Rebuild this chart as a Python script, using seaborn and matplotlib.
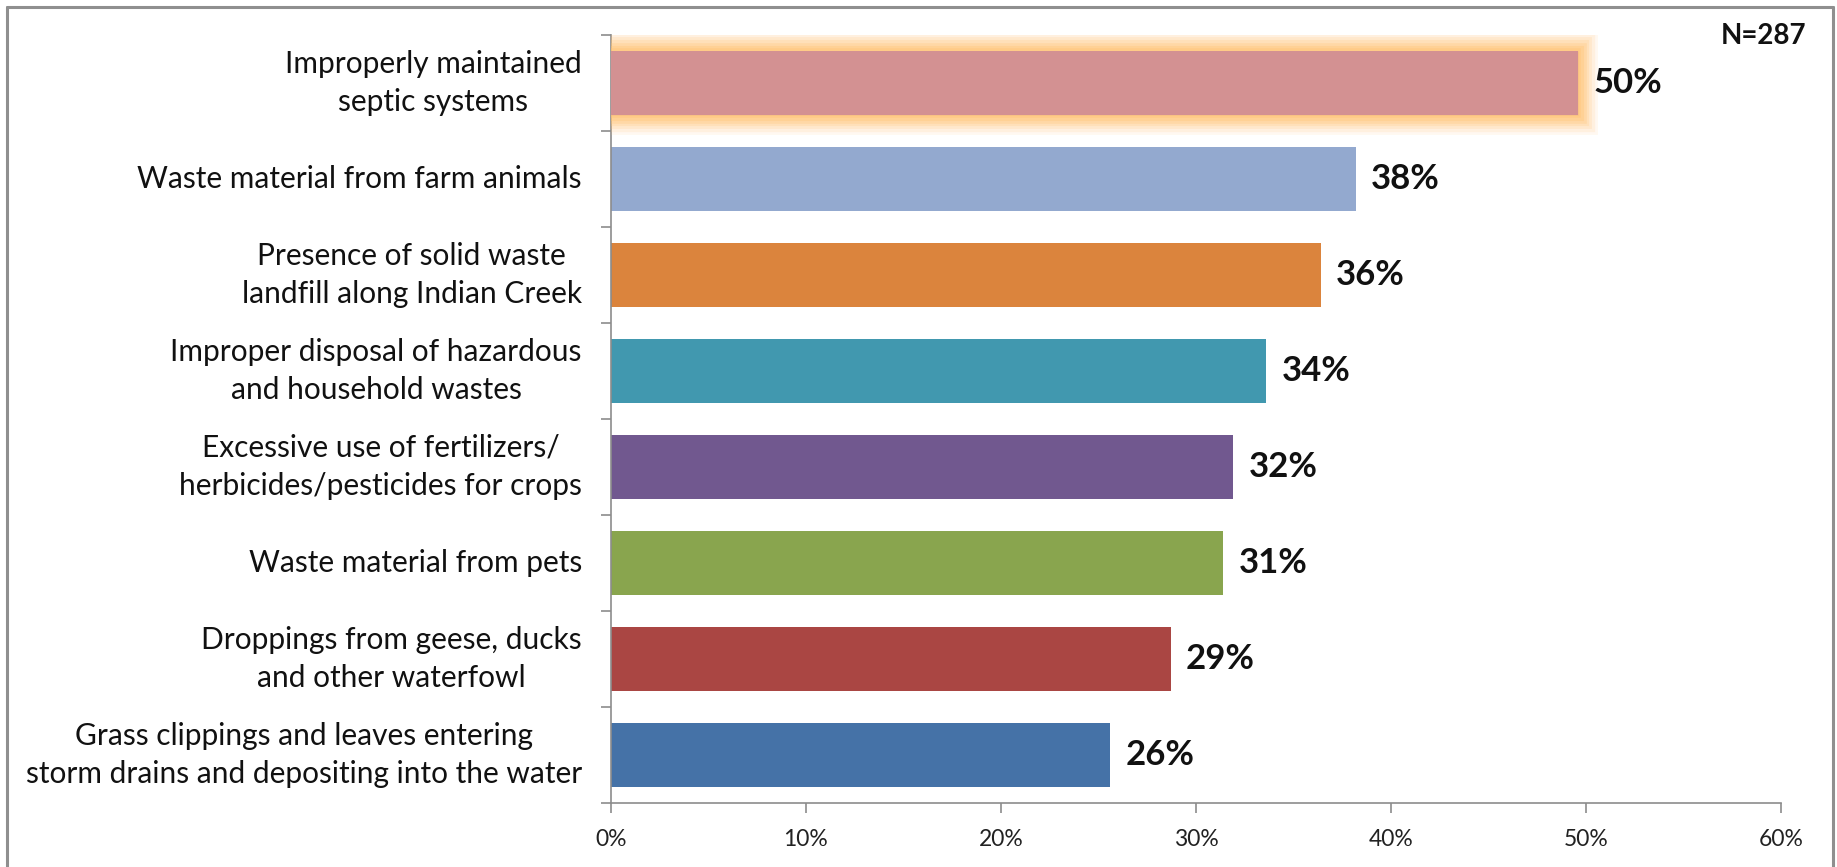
import matplotlib
matplotlib.use("Agg")
import matplotlib.pyplot as plt
import matplotlib.patheffects as pe
from matplotlib.lines import Line2D
from matplotlib.ticker import FixedLocator, PercentFormatter
import seaborn as sns
import pandas as pd

# Survey responses: perceived sources of water pollution
categories = [
    "Improperly maintained\nseptic systems",
    "Waste material from farm animals",
    "Presence of solid waste\nlandfill along Indian Creek",
    "Improper disposal of hazardous\nand household wastes",
    "Excessive use of fertilizers/\nherbicides/pesticides for crops",
    "Waste material from pets",
    "Droppings from geese, ducks\nand other waterfowl",
    "Grass clippings and leaves entering\nstorm drains and depositing into the water",
]
percent = [49.6, 38.2, 36.4, 33.6, 31.9, 31.4, 28.7, 25.6]
colors = ["#D39192", "#93A9CF", "#DB843D", "#4198AF",
          "#71588F", "#89A54E", "#AA4643", "#4572A7"]
x_ticks = [0, 10, 20, 30, 40, 50, 60]
sample_note = "N=287"

sns.set_theme(style="white")
plt.rcParams["font.family"] = ["Lato", "DejaVu Sans"]

df = pd.DataFrame({"category": categories, "percent": percent})

fig = plt.figure(figsize=(18.37, 8.67), dpi=100)
ax = fig.add_axes([0.3326, 0.0738, 0.9695 - 0.3326, 0.9596 - 0.0738])

sns.barplot(data=df, x="percent", y="category", hue="category",
            palette=colors, orient="h", width=0.66, saturation=1,
            legend=False, edgecolor="none", linewidth=0, ax=ax)

# soft orange glow on the top bar
glow = [pe.Stroke(linewidth=w, foreground="#FFC477", alpha=a)
        for w, a in [(28, 0.10), (24, 0.14), (20, 0.18), (16, 0.22), (12, 0.28), (8, 0.35), (4, 0.45)]]
top_bar = ax.patches[0]
top_bar.set_path_effects(glow + [pe.Normal()])
top_bar.set_zorder(3)

# value labels
for i, v in enumerate(percent):
    ax.annotate(f"{v:.0f}%", xy=(v, i), xytext=(11, 0), textcoords="offset points",
                ha="left", va="center", fontsize=25, fontweight="bold", color="#111111")

ax.set_xlim(0, 60)
ax.set_ylim(len(categories) - 0.5, -0.5)
ax.xaxis.set_major_locator(FixedLocator(x_ticks))
ax.xaxis.set_major_formatter(PercentFormatter(decimals=0))
ax.set_xlabel("")
ax.set_ylabel("")

for side in ["top", "right"]:
    ax.spines[side].set_visible(False)
for side in ["left", "bottom"]:
    ax.spines[side].set_color("#8C8C8C")
    ax.spines[side].set_linewidth(1.2)

ax.tick_params(axis="x", which="major", bottom=True, length=7, width=1.2,
               color="#8C8C8C", direction="out", pad=12, labelsize=16.5, labelcolor="#222222")
ax.tick_params(axis="y", which="major", left=False, length=0, pad=21,
               labelsize=21.5, labelcolor="#111111")
ax.yaxis.set_minor_locator(FixedLocator([i - 0.5 for i in range(len(categories) + 1)]))
ax.tick_params(axis="y", which="minor", left=True, length=7, width=1.2,
               color="#8C8C8C", direction="out")
for lbl in ax.get_yticklabels():
    lbl.set_multialignment("center")
    lbl.set_linespacing(1.45)
    lbl.set_verticalalignment("center")

fig.text(1806 / 1837, 1 - 36 / 867, sample_note, ha="right", va="center",
         fontsize=20, fontweight="bold", color="#111111")

# outer chart frame
frame_color = "#8F8F8F"
l, r, t = 7 / 1837, 1833 / 1837, 1 - 7 / 867
for xs, ys in [([l, r], [t, t]), ([l, l], [t, -0.05]), ([r, r], [t, -0.05])]:
    fig.add_artist(Line2D(xs, ys, transform=fig.transFigure, color=frame_color,
                          linewidth=2.2, clip_on=False))

fig.savefig("out.png", dpi=100, facecolor="white")
